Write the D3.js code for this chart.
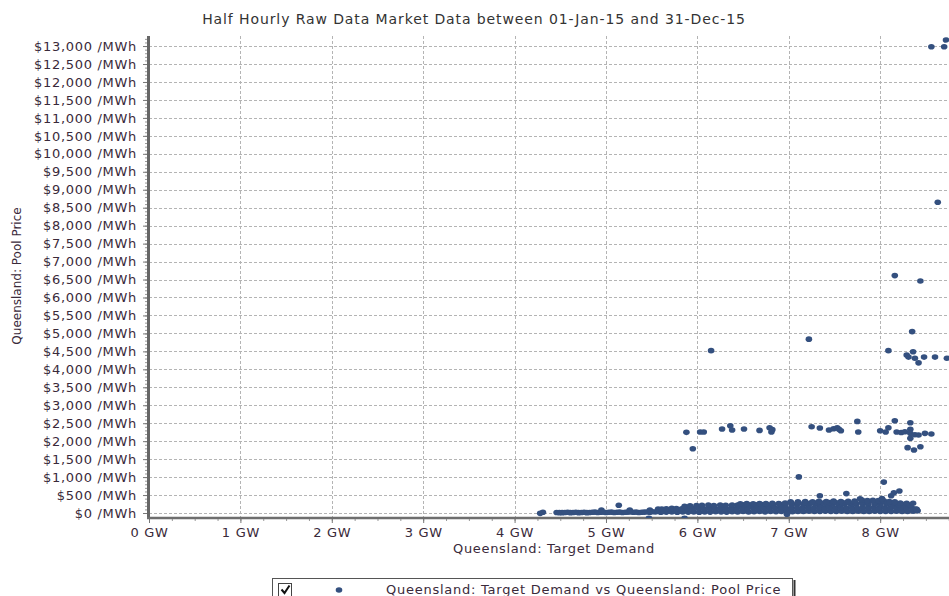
<!DOCTYPE html>
<html>
<head>
<meta charset="utf-8">
<script src="https://cdn.jsdelivr.net/npm/d3@7/dist/d3.min.js"></script>
<style>
  body { margin: 0; background: #fff; }
  svg { display: block; font-family: "DejaVu Sans", Verdana, sans-serif; }
</style>
</head>
<body>
<svg id="chart"></svg>
<script>
const width = 949, height = 596;
const plot = { left: 149, right: 949, top: 36, bottom: 518 };

const titleText = "Half Hourly Raw Data Market Data between 01-Jan-15 and 31-Dec-15";
const xLabel = "Queensland: Target Demand";
const yLabel = "Queensland: Pool Price";
const legendLabel = "Queensland: Target Demand vs Queensland: Pool Price";

// tick values
const demandTicks = [0, 1, 2, 3, 4, 5, 6, 7, 8];
const priceTicks = [0, 500, 1000, 1500, 2000, 2500, 3000, 3500, 4000, 4500, 5000, 5500, 6000, 6500,
  7000, 7500, 8000, 8500, 9000, 9500, 10000, 10500, 11000, 11500, 12000, 12500, 13000];

// price spikes (GW, $/MWh)
const spikeDemand = [8.56, 8.70, 8.72, 8.63, 8.16, 8.44, 8.35, 6.15, 7.22, 8.09, 8.36, 8.29, 8.31, 8.38, 8.42, 8.48, 8.60, 8.73];
const spikePrice = [12980, 12980, 13170, 8650, 6610, 6460, 5050, 4520, 4840, 4520, 4490, 4400, 4340, 4310, 4180, 4340, 4340, 4310];

// the $1,750 - $2,600 group
const highDemand = [5.88, 5.95, 6.03, 6.07, 6.27, 6.36, 6.38, 6.51, 6.68, 6.79, 6.81, 6.82, 7.25, 7.34, 7.44, 7.49,
  7.53, 7.55, 7.57, 7.75, 7.76, 8.00, 8.06, 8.09, 8.16, 8.18, 8.23, 8.27, 8.33, 8.33, 8.33, 8.33, 8.38, 8.42,
  8.30, 8.37, 8.44, 8.49, 8.56];
const highPrice = [2246, 1790, 2255, 2255, 2338, 2430, 2310, 2338, 2300, 2375, 2255, 2320, 2400, 2366, 2310, 2347,
  2375, 2330, 2290, 2550, 2255, 2290, 2255, 2375, 2570, 2255, 2240, 2263, 2514, 2330, 2218, 2080, 2180, 2170,
  1820, 1754, 1846, 2218, 2200];

// isolated points below $1,100
const lowDemand = [7.11, 8.04, 8.12, 8.15, 8.21, 7.34, 7.63, 7.78, 5.14, 4.28, 4.31, 5.47, 5.86, 6.98, 8.40, 8.36, 8.02];
const lowPrice = [1005, 860, 482, 565, 612, 482, 540, 395, 215, -10, 20, -150, -150, -35, 100, 270, 400];

// dense band of normal prices
const bandDemand = [
  4.46, 4.52, 4.58, 4.64, 4.70, 4.76, 4.82, 4.88, 4.94, 5.00, 5.06, 5.12, 5.18, 5.24, 5.30, 5.36, 5.42, 5.48,
  5.54, 5.60, 5.66, 5.72, 5.78, 5.84, 5.90, 5.96, 6.02, 6.08, 6.14, 6.20, 6.26, 6.32, 6.38, 6.44, 6.50, 6.56,
  6.62, 6.68, 6.74, 6.80, 6.86, 6.92, 6.98, 7.04, 7.10, 7.16, 7.22, 7.28, 7.34, 7.40, 7.46, 7.52, 7.58, 7.64,
  7.70, 7.76, 7.82, 7.88, 7.94, 8.00, 8.06, 8.12, 8.18, 8.24, 8.30, 8.36, 8.41,
  4.49, 4.55, 4.61, 4.67, 4.73, 4.79, 4.85, 4.91, 4.97, 5.03, 5.09, 5.15, 5.21, 5.27, 5.33, 5.39, 5.45, 5.51,
  5.57, 5.63, 5.69, 5.75, 5.81, 5.87,
  4.95, 5.26, 5.48, 5.57, 5.61, 5.66, 5.72, 5.77, 5.83, 5.89, 5.95, 6.01, 6.07, 6.13, 6.19, 6.25, 6.31, 6.37,
  6.43, 6.49, 6.55, 6.61, 6.67, 6.73, 6.79, 6.85, 6.91, 6.97, 7.03, 7.09, 7.15, 7.21, 7.27, 7.33, 7.39, 7.45,
  7.51, 7.57, 7.63, 7.69, 7.75, 7.81, 7.87, 7.93, 7.99, 8.05, 8.11, 8.17, 8.23, 8.29, 8.35, 8.39,
  5.86, 5.92, 5.99, 6.05, 6.12, 6.18, 6.25, 6.31, 6.38, 6.44, 6.51, 6.57, 6.64, 6.70, 6.77, 6.83, 6.90, 6.96,
  7.03, 7.09, 7.16, 7.22, 7.29, 7.35, 7.42, 7.48, 7.55, 7.61, 7.68, 7.74, 7.81, 7.87, 7.94, 8.00, 8.07, 8.13,
  8.20, 8.26, 8.33,
  6.47, 6.54, 6.61, 6.68, 6.75, 6.82, 6.89, 6.96, 7.03, 7.10, 7.17, 7.24, 7.31, 7.38, 7.45, 7.52, 7.59, 7.66,
  7.73, 7.80, 7.87, 7.94, 8.01, 8.08, 8.15, 8.22, 8.29,
  7.02, 7.10, 7.18, 7.26, 7.33, 7.41, 7.49, 7.57, 7.65, 7.72, 7.80, 7.86, 7.92, 7.98, 8.04, 8.10, 8.16
];
const bandPrice = [
  15, 10, 20, 15, 10, 20, 15, 25, 20, 15, 25, 20, 15, 25, 20, 15, 25, 20,
  30, 20, 25, 30, 20, 30, 25, 30, 20, 30, 25, 35, 30, 25, 35, 30, 40, 30,
  35, 40, 30, 40, 35, 45, 40, 35, 45, 40, 50, 40, 45, 50, 40, 45, 50, 40,
  45, 50, 40, 45, 50, 40, 45, 40, 50, 45, 40, 50, 60,
  10, 15, 10, 20, 15, 10, 20, 15, 25, 20, 15, 25, 20, 30, 25, 20, 30, 35,
  40, 45, 60, 70, 80, 90,
  85, 85, 85, 110, 110, 120, 130, 125, 120, 130, 125, 130, 120, 130, 125, 130, 120, 130,
  125, 135, 130, 140, 130, 135, 130, 140, 135, 140, 130, 140, 135, 140, 130, 140, 135, 140,
  130, 140, 135, 140, 130, 145, 140, 150, 140, 145, 140, 150, 140, 145, 130, 110,
  185, 200, 210, 215, 220, 210, 225, 215, 220, 225, 230, 220, 230, 235, 225, 235, 240, 230,
  235, 245, 235, 240, 245, 235, 240, 245, 240, 250, 245, 240, 250, 245, 250, 240, 250, 245,
  240, 235, 220,
  255, 260, 255, 265, 260, 270, 265, 275, 280, 275, 285, 280, 285, 280, 290, 285, 290, 285,
  290, 295, 290, 300, 295, 290, 285, 280, 270,
  315, 310, 320, 315, 325, 320, 330, 320, 325, 330, 360, 350, 355, 345, 340, 320, 310
];

const color = "#34507f";

const svg = d3.select("#chart")
  .attr("width", width)
  .attr("height", height)
  .attr("viewBox", [0, 0, width, height]);

const x = d3.scaleLinear().domain([0, 8.753]).range([plot.left, plot.right]);
const y = d3.scaleLinear().domain([-139, 13280]).range([plot.bottom, plot.top]);

// title
svg.append("text")
  .attr("x", 474)
  .attr("y", 24)
  .attr("text-anchor", "middle")
  .attr("font-size", 14)
  .attr("letter-spacing", 0.9)
  .attr("fill", "#333")
  .text(titleText);

// gridlines
const grid = svg.append("g").attr("stroke", "#b4b4b4").attr("stroke-dasharray", "3,2").attr("stroke-width", 1);
grid.selectAll("line.h")
  .data(priceTicks)
  .join("line")
  .attr("class", "h")
  .attr("x1", plot.left)
  .attr("x2", plot.right)
  .attr("y1", d => Math.round(y(d)) + 0.5)
  .attr("y2", d => Math.round(y(d)) + 0.5);
grid.selectAll("line.v")
  .data(demandTicks.filter(d => d > 0))
  .join("line")
  .attr("class", "v")
  .attr("x1", d => Math.round(x(d)) + 0.5)
  .attr("x2", d => Math.round(x(d)) + 0.5)
  .attr("y1", plot.top)
  .attr("y2", plot.bottom);

// minor ticks
const yMinor = svg.append("g")
  .attr("transform", `translate(${plot.left - 1},0)`)
  .call(d3.axisLeft(y).tickValues(d3.range(0, 13201, 100)).tickSize(3).tickFormat(""));
yMinor.select(".domain").remove();
yMinor.selectAll("line").attr("stroke", "#999");

const xMinor = svg.append("g")
  .attr("transform", `translate(0,${plot.bottom})`)
  .call(d3.axisBottom(x).tickValues(d3.range(0, 8.76, 0.25)).tickSize(3).tickFormat(""));
xMinor.select(".domain").remove();
xMinor.selectAll("line").attr("stroke", "#999");

// y axis
const yAxis = svg.append("g")
  .attr("transform", `translate(${plot.left - 1},0)`)
  .call(d3.axisLeft(y)
    .tickValues(priceTicks)
    .tickSize(5)
    .tickPadding(6)
    .tickFormat(d => "$" + d3.format(",")(d) + " /MWh"));
yAxis.select(".domain").remove();
yAxis.selectAll("line").attr("stroke", "#777");
yAxis.selectAll("text")
  .attr("font-family", "'DejaVu Sans', Verdana, sans-serif")
  .attr("font-size", 13)
  .attr("letter-spacing", 0.7)
  .attr("fill", "#3a2a3a");

// x axis
const xAxis = svg.append("g")
  .attr("transform", `translate(0,${plot.bottom})`)
  .call(d3.axisBottom(x)
    .tickValues(demandTicks)
    .tickSize(5)
    .tickPadding(5)
    .tickFormat(d => d + " GW"));
xAxis.select(".domain").remove();
xAxis.selectAll("line").attr("stroke", "#777");
xAxis.selectAll("text")
  .attr("font-family", "'DejaVu Sans', Verdana, sans-serif")
  .attr("font-size", 13)
  .attr("letter-spacing", 0.7)
  .attr("fill", "#3a2a3a");

// axis lines
svg.append("line")
  .attr("x1", plot.left - 0.5).attr("x2", plot.left - 0.5)
  .attr("y1", plot.top).attr("y2", plot.bottom + 1)
  .attr("stroke", "#666").attr("stroke-width", 3);
svg.append("line")
  .attr("x1", plot.left - 2).attr("x2", plot.right)
  .attr("y1", plot.bottom).attr("y2", plot.bottom)
  .attr("stroke", "#6e6e6e").attr("stroke-width", 2.5);

// axis titles
svg.append("text")
  .attr("x", 554)
  .attr("y", 553)
  .attr("text-anchor", "middle")
  .attr("font-size", 13)
  .attr("letter-spacing", 0.65)
  .attr("fill", "#3a2a3a")
  .text(xLabel);

svg.append("text")
  .attr("transform", "translate(21,276) rotate(-90)")
  .attr("text-anchor", "middle")
  .attr("font-size", 12)
  .attr("fill", "#3a2a3a")
  .text(yLabel);

// points
const points = [];
[[bandDemand, bandPrice], [lowDemand, lowPrice], [highDemand, highPrice], [spikeDemand, spikePrice]]
  .forEach(([ds, ps]) => ds.forEach((d, i) => points.push({ demand: d, price: ps[i] })));

svg.append("defs").append("clipPath").attr("id", "clip")
  .append("rect").attr("x", plot.left).attr("y", plot.top - 6)
  .attr("width", plot.right - plot.left).attr("height", plot.bottom - plot.top + 6);

svg.append("g")
  .attr("clip-path", "url(#clip)")
  .selectAll("ellipse")
  .data(points)
  .join("ellipse")
  .attr("cx", d => x(d.demand))
  .attr("cy", d => y(d.price))
  .attr("rx", 3.3)
  .attr("ry", 2.8)
  .attr("fill", color);

// legend
const legend = svg.append("g");
legend.append("rect")
  .attr("x", 272.5).attr("y", 578.5)
  .attr("width", 520).attr("height", 30)
  .attr("fill", "#fff").attr("stroke", "#555");
legend.append("line")
  .attr("x1", 794.5).attr("x2", 794.5).attr("y1", 580).attr("y2", 600)
  .attr("stroke", "#333").attr("stroke-width", 2);
legend.append("rect")
  .attr("x", 278.5).attr("y", 583.5)
  .attr("width", 13).attr("height", 13)
  .attr("fill", "#fff").attr("stroke", "#444");
legend.append("path")
  .attr("d", "M281.5,589.5 L284.5,593 L289.5,585.5")
  .attr("fill", "none").attr("stroke", "#111").attr("stroke-width", 2);
legend.append("ellipse")
  .attr("cx", 339).attr("cy", 590)
  .attr("rx", 3.3).attr("ry", 2.8)
  .attr("fill", color);
legend.append("text")
  .attr("x", 386).attr("y", 594)
  .attr("font-size", 13)
  .attr("letter-spacing", 0.75)
  .attr("fill", "#3a2a3a")
  .text(legendLabel);
</script>
</body>
</html>
